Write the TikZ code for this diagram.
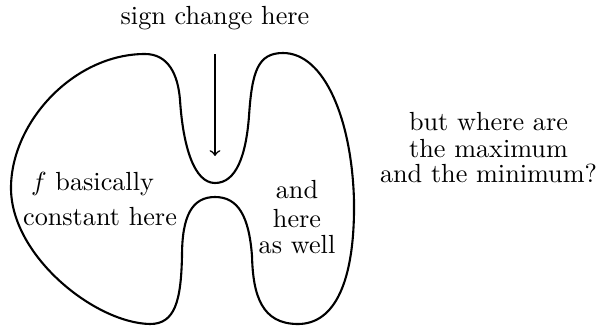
\documentclass[tikz,border=0pt]{standalone}
\begin{document}
\begin{tikzpicture}[x=0.3817pt,y=0.3817pt,
  outline/.style={thick},
  pointer/.style={semithick,->},
  lbl/.style={anchor=base,inner sep=0pt}]
\useasboundingbox (0,0) rectangle (600,326);
% closed outline
\draw[outline] (11,138)
  .. controls (11,204) and (74,272) .. (145,272)
  .. controls (168,272) and (178,252) .. (180,226)
  .. controls (183,180) and (194,143) .. (215,143)
  .. controls (236,143) and (246,170) .. (249,210)
  .. controls (252,255) and (258,273) .. (283,273)
  .. controls (325,273) and (352,205) .. (354,125)
  .. controls (355,45) and (335,2) .. (298,2)
  .. controls (262,2) and (253,30) .. (252,70)
  .. controls (249,110) and (238,129) .. (215,129)
  .. controls (192,129) and (182,110) .. (182,70)
  .. controls (181,25) and (175,2) .. (150,2)
  .. controls (95,3) and (11,70) .. cycle;
% labels
\node[lbl] (sign) at (215,301) {sign change here};
\coordinate (arrowtop) at (215,272);
\coordinate (arrowtip) at (215,170);
\draw[pointer] (arrowtop) -- (arrowtip);
\node[lbl] (f1) at (92.5,136) {$f$ basically};
\node[lbl] (f2) at (100,101) {constant here};
\node[lbl] (r1) at (297,128) {and};
\node[lbl] (r2) at (297,99) {here};
\node[lbl] (r3) at (297,73) {as well};
\node[lbl] (q1) at (488.5,196) {but where are};
\node[lbl] (q2) at (488.5,169) {the maximum};
\node[lbl] (q3) at (488.5,144) {and the minimum?};
\end{tikzpicture}
\end{document}
